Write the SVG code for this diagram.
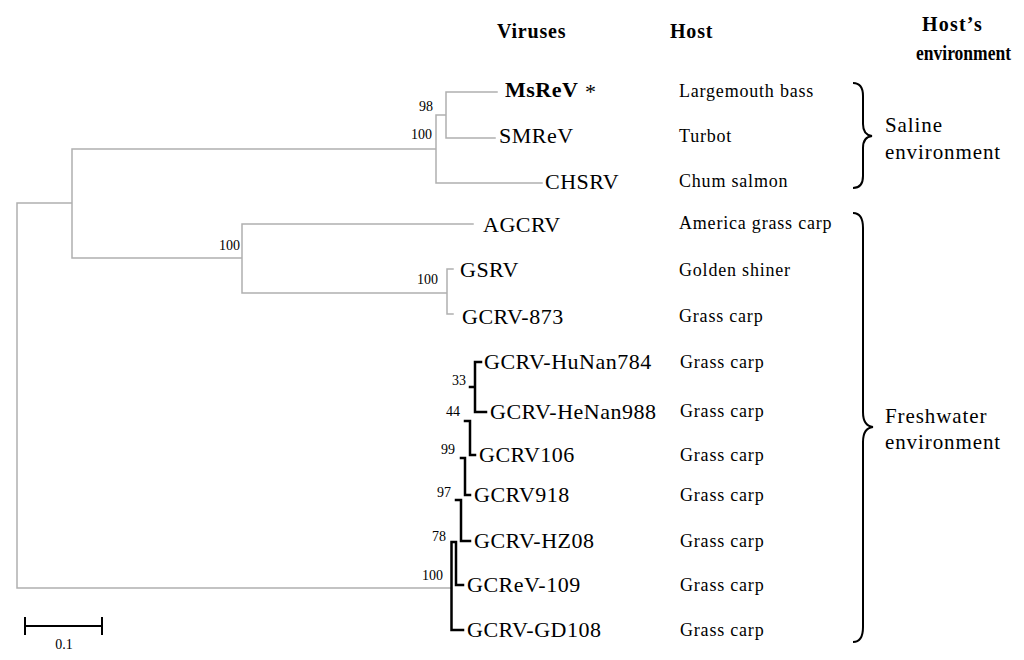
<svg xmlns="http://www.w3.org/2000/svg" width="1024" height="660" viewBox="0 0 1024 660">
<style>
.bg{fill:#ffffff}
.thin{fill:none;stroke:#b0b0b0;stroke-width:1.5;stroke-linecap:square}
.bold{fill:none;stroke:#000;stroke-width:2.5;stroke-linecap:square}
.brace{fill:none;stroke:#000;stroke-width:2}
.leaf{font-family:"Liberation Serif","Times New Roman",serif;font-size:22px;letter-spacing:0.5px;fill:#000}
.host{font-family:"Liberation Serif","Times New Roman",serif;font-size:18px;letter-spacing:0.8px;fill:#000}
.boot{font-family:"Liberation Serif","Times New Roman",serif;font-size:14px;fill:#000;text-anchor:end}
.head{font-family:"Liberation Serif","Times New Roman",serif;font-size:20px;font-weight:bold;letter-spacing:0.8px;fill:#000}
.env{font-family:"Liberation Serif","Times New Roman",serif;font-size:21px;letter-spacing:0.9px;fill:#000}
</style>
<rect class="bg" x="0" y="0" width="1024" height="660"/>

<g id="headers">
<text class="head" x="497" y="38">Viruses</text>
<text class="head" x="670" y="38">Host</text>
<text class="head" x="922" y="31" style="letter-spacing:1.2px">Host’s</text>
<text class="head" x="916" y="60" style="letter-spacing:0" textLength="95" lengthAdjust="spacingAndGlyphs">environment</text>
</g>

<g id="connectors">
<path class="thin" d="M17,203 V588 M17,203 H72 M72,149 V258 M72,149 H436 M436,115 V183 M436,115 H446 M446,92 V138 M446,92 H497 M446,138 H495 M436,183 H542 M72,258 H242 M242,224 V293 M242,224 H473 M242,293 H447 M447,269 V314 M447,269 H453 M447,314 H453 M17,588 H451.5"/>
<path class="bold" d="M451.5,542 V630 H463 M451.5,542 H456 V585 H463 M456,500 H461 V541 H470 M461,458 H465 V495 H470 M465,421 H470 V455 H475 M470,387 H475 V362 H481 M475,387 V412 H486"/>
</g>

<g id="bootstrap">
<text class="boot" x="433" y="111">98</text>
<text class="boot" x="432" y="139">100</text>
<text class="boot" x="240" y="250">100</text>
<text class="boot" x="438" y="284">100</text>
<text class="boot" x="466" y="385">33</text>
<text class="boot" x="460" y="416">44</text>
<text class="boot" x="455" y="454">99</text>
<text class="boot" x="451" y="497">97</text>
<text class="boot" x="446" y="541">78</text>
<text class="boot" x="443" y="580">100</text>
</g>

<g id="node-MsReV"><text class="leaf" x="505" y="97" font-weight="bold">MsReV</text><text class="leaf" x="585" y="99" font-size="38">*</text></g>
<g id="node-SMReV"><text class="leaf" x="499" y="143">SMReV</text></g>
<g id="node-CHSRV"><text class="leaf" x="545" y="189">CHSRV</text></g>
<g id="node-AGCRV"><text class="leaf" x="483" y="232">AGCRV</text></g>
<g id="node-GSRV"><text class="leaf" x="460" y="277">GSRV</text></g>
<g id="node-GCRV-873"><text class="leaf" x="462" y="324">GCRV-873</text></g>
<g id="node-GCRV-HuNan784"><text class="leaf" x="484" y="369">GCRV-HuNan784</text></g>
<g id="node-GCRV-HeNan988"><text class="leaf" x="490" y="419">GCRV-HeNan988</text></g>
<g id="node-GCRV106"><text class="leaf" x="479" y="462">GCRV106</text></g>
<g id="node-GCRV918"><text class="leaf" x="474" y="502">GCRV918</text></g>
<g id="node-GCRV-HZ08"><text class="leaf" x="474" y="548">GCRV-HZ08</text></g>
<g id="node-GCReV-109"><text class="leaf" x="467" y="592">GCReV-109</text></g>
<g id="node-GCRV-GD108"><text class="leaf" x="467" y="637">GCRV-GD108</text></g>

<g id="hosts">
<text class="host" x="679" y="97">Largemouth bass</text>
<text class="host" x="679" y="142">Turbot</text>
<text class="host" x="679" y="187">Chum salmon</text>
<text class="host" x="679" y="229">America grass carp</text>
<text class="host" x="679" y="276">Golden shiner</text>
<text class="host" x="679" y="322">Grass carp</text>
<text class="host" x="680" y="368">Grass carp</text>
<text class="host" x="680" y="417">Grass carp</text>
<text class="host" x="680" y="461">Grass carp</text>
<text class="host" x="680" y="501">Grass carp</text>
<text class="host" x="680" y="547">Grass carp</text>
<text class="host" x="680" y="591">Grass carp</text>
<text class="host" x="680" y="636">Grass carp</text>
</g>

<g id="saline-group">
<path class="brace" d="M853,83 Q863,83 863,96 V124 Q863,135 872,136 Q863,137 863,148 V176 Q863,188 853,188"/>
<text class="env" x="885" y="132">Saline</text>
<text class="env" x="885" y="159">environment</text>
</g>

<g id="freshwater-group">
<path class="brace" d="M853,213 Q863,213 863,228 V412 Q863,426 873,427 Q863,428 863,442 V627 Q863,642 853,642"/>
<text class="env" x="885" y="423">Freshwater</text>
<text class="env" x="885" y="449">environment</text>
</g>

<g id="scale-bar">
<path class="bold" style="stroke-width:2" d="M25,626 H102 M25,618 V634 M102,618 V634"/>
<text class="boot" style="text-anchor:middle" x="64" y="649">0.1</text>
</g>
</svg>
